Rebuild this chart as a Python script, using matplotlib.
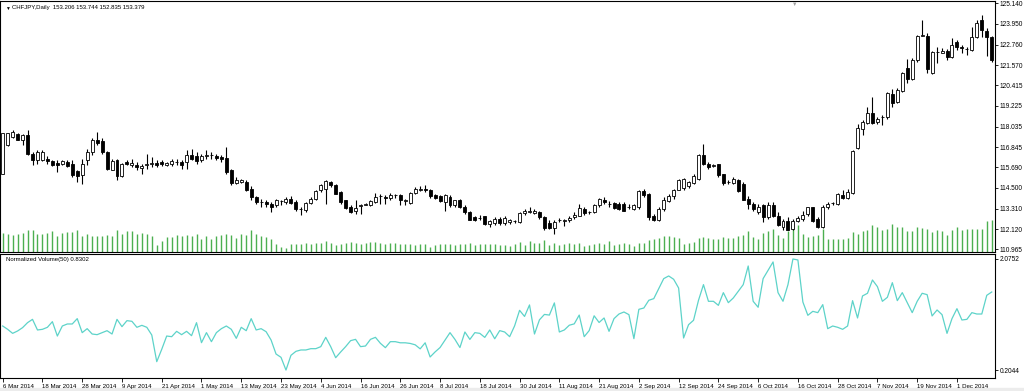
import matplotlib
matplotlib.use('Agg')
import matplotlib.pyplot as plt
from matplotlib.patches import Rectangle

plt.rcParams['font.family'] = ['Liberation Sans', 'DejaVu Sans']

# daily CHFJPY bars, 6 Mar 2014 .. 9 Dec 2014
opens = [
    115.32, 116.96, 117.44, 117.60, 117.25, 117.54, 116.48, 116.09, 116.13, 116.19,
    116.06, 115.94, 115.86, 116.00, 115.86, 115.45, 115.23, 116.09, 116.58, 117.29,
    117.21, 116.58, 115.55, 116.09, 115.17, 116.00, 115.80, 115.80, 115.67, 115.80,
    115.90, 115.94, 116.00, 115.84, 115.90, 116.02, 116.00, 116.00, 116.38, 116.32,
    116.09, 116.32, 116.40, 116.32, 116.29, 116.25, 115.52, 114.78, 114.84, 114.84,
    114.46, 113.97, 113.70, 113.69, 113.59, 113.49, 113.76, 113.69, 113.88, 113.69,
    113.30, 113.24, 113.63, 113.88, 114.36, 114.46, 114.84, 114.65, 114.26, 113.78,
    113.40, 113.17, 113.47, 113.53, 113.53, 113.69, 114.03, 113.96, 113.94, 114.09,
    114.07, 113.74, 113.63, 114.21, 114.36, 114.46, 114.36, 114.07, 114.01, 113.69,
    113.97, 113.49, 113.82, 113.40, 113.11, 112.82, 112.76, 112.86, 112.43, 112.47,
    112.72, 112.47, 112.51, 112.61, 112.53, 113.05, 113.14, 113.07, 113.11, 112.82,
    112.47, 112.20, 112.64, 112.62, 112.63, 112.82, 112.91, 113.30, 113.10, 113.11,
    113.49, 113.82, 113.60, 113.63, 113.59, 113.55, 113.41, 113.30, 113.40, 114.32,
    114.13, 112.91, 112.63, 113.30, 113.74, 114.01, 114.40, 114.51, 114.59, 114.78,
    115.03, 116.38, 115.86, 115.79, 115.86, 115.28, 114.85, 114.78, 114.98, 114.74,
    113.88, 113.59, 113.11, 113.49, 112.82, 113.49, 112.91, 112.24, 112.62, 112.14,
    112.59, 112.72, 113.01, 113.39, 112.72, 112.24, 113.39, 113.62, 113.55, 114.09,
    113.93, 114.20, 116.83, 117.92, 118.25, 118.79, 118.31, 118.58, 118.56, 119.91,
    119.47, 120.10, 121.39, 120.76, 121.85, 123.28, 123.26, 121.14, 122.36, 122.30,
    122.41, 122.03, 122.88, 122.64, 122.50, 122.45, 123.18, 124.19, 123.57, 123.18,
]
highs = [
    117.68, 117.68, 117.83, 117.64, 117.60, 117.83, 116.58, 116.67, 116.67, 116.32,
    116.13, 116.09, 116.13, 116.09, 116.13, 115.52, 116.19, 116.77, 117.35, 117.73,
    117.35, 116.63, 116.19, 116.19, 115.94, 116.09, 116.19, 116.00, 115.90, 116.48,
    116.29, 116.09, 116.13, 116.00, 116.19, 116.19, 116.13, 116.67, 116.77, 116.58,
    116.48, 116.67, 116.58, 116.48, 116.42, 116.86, 115.61, 115.13, 115.03, 114.98,
    114.59, 114.05, 113.88, 113.78, 113.69, 113.88, 113.82, 113.97, 114.01, 113.78,
    113.40, 113.69, 113.97, 114.40, 114.74, 114.94, 114.90, 114.74, 114.30, 113.82,
    113.49, 113.78, 113.59, 113.63, 113.78, 114.21, 114.17, 114.07, 114.21, 114.17,
    114.17, 113.88, 114.26, 114.55, 114.59, 114.65, 114.46, 114.17, 114.07, 114.13,
    114.07, 113.82, 113.88, 113.49, 113.20, 112.91, 112.95, 112.91, 112.63, 112.82,
    112.80, 112.86, 112.70, 112.66, 113.11, 113.30, 113.40, 113.30, 113.20, 112.86,
    112.63, 112.63, 112.78, 112.72, 112.91, 113.11, 113.59, 113.40, 113.20, 113.55,
    113.94, 113.97, 113.74, 113.68, 113.68, 113.68, 113.59, 113.59, 114.36, 114.46,
    114.21, 113.01, 113.40, 113.97, 114.17, 114.46, 115.03, 115.09, 114.90, 115.32,
    116.48, 117.02, 116.00, 115.90, 115.90, 115.32, 114.98, 115.13, 115.03, 114.84,
    114.01, 113.68, 113.55, 113.59, 113.68, 113.68, 113.11, 112.72, 112.82, 112.72,
    112.91, 113.16, 113.43, 113.43, 112.82, 113.49, 113.68, 113.68, 114.20, 114.36,
    114.45, 116.67, 118.21, 118.41, 119.17, 119.75, 118.60, 118.69, 120.04, 120.18,
    120.24, 121.20, 121.91, 121.97, 123.32, 124.15, 123.41, 122.41, 122.64, 122.55,
    122.49, 123.13, 123.03, 122.74, 122.64, 123.80, 124.19, 124.47, 123.70, 123.26,
]
lows = [
    115.28, 116.90, 117.40, 117.25, 116.96, 116.38, 115.80, 115.90, 116.06, 115.90,
    115.75, 115.42, 115.80, 115.71, 115.13, 114.84, 114.74, 115.80, 116.38, 116.96,
    116.48, 115.55, 115.52, 114.94, 115.13, 115.80, 115.71, 115.52, 115.32, 115.61,
    115.71, 115.71, 115.75, 115.77, 115.75, 115.80, 115.61, 115.61, 116.09, 115.90,
    116.00, 116.19, 116.19, 116.09, 116.00, 115.32, 114.65, 114.74, 114.78, 114.32,
    113.78, 113.60, 113.40, 113.40, 113.11, 113.40, 113.49, 113.59, 113.59, 113.20,
    112.97, 113.11, 113.59, 113.78, 114.26, 113.59, 114.55, 114.13, 113.59, 113.30,
    113.05, 113.01, 113.01, 113.49, 113.47, 113.63, 113.59, 113.55, 113.82, 113.94,
    113.49, 113.49, 113.55, 114.13, 114.30, 114.26, 113.94, 113.88, 113.69, 113.20,
    113.43, 113.40, 113.36, 113.01, 112.63, 112.59, 112.63, 112.34, 112.24, 112.39,
    112.39, 112.39, 112.43, 112.47, 112.47, 112.97, 113.05, 113.01, 112.72, 112.09,
    112.14, 111.82, 112.53, 112.28, 112.53, 112.72, 112.86, 112.97, 113.01, 113.05,
    113.43, 113.59, 113.43, 113.28, 113.24, 113.16, 113.30, 113.24, 113.30, 113.97,
    112.66, 112.59, 112.59, 113.20, 113.68, 113.88, 114.36, 114.40, 114.51, 114.74,
    114.98, 115.80, 115.61, 115.71, 115.13, 114.65, 114.74, 114.71, 114.26, 113.78,
    113.30, 113.20, 113.01, 112.53, 112.72, 112.82, 112.33, 112.08, 112.05, 112.05,
    112.53, 112.62, 112.91, 112.53, 112.18, 112.18, 113.30, 113.49, 113.49, 113.88,
    113.88, 114.17, 116.77, 117.54, 118.17, 118.17, 118.21, 118.12, 118.50, 119.17,
    119.41, 120.04, 120.52, 120.72, 121.78, 123.26, 121.10, 121.06, 121.68, 122.26,
    121.87, 121.97, 122.45, 122.26, 122.16, 122.41, 123.13, 123.22, 122.10, 121.78,
]
closes = [
    117.64, 117.64, 117.73, 117.29, 117.54, 116.48, 116.09, 116.58, 116.58, 116.06,
    115.80, 115.80, 116.06, 115.77, 115.23, 115.20, 115.90, 116.58, 117.25, 117.10,
    116.58, 115.61, 116.06, 115.17, 115.90, 115.86, 115.94, 115.71, 115.75, 115.90,
    115.92, 115.84, 115.86, 115.94, 116.06, 116.00, 115.80, 116.38, 116.19, 116.06,
    116.32, 116.42, 116.41, 116.23, 116.19, 115.42, 114.80, 114.98, 114.94, 114.40,
    113.97, 113.68, 113.68, 113.55, 113.40, 113.78, 113.74, 113.88, 113.63, 113.30,
    113.28, 113.63, 113.88, 114.32, 114.65, 114.90, 114.65, 114.17, 113.69, 113.36,
    113.11, 113.34, 113.49, 113.55, 113.74, 113.97, 114.01, 113.94, 114.11, 114.07,
    113.82, 113.82, 114.21, 114.46, 114.46, 114.36, 114.01, 113.94, 113.74, 114.07,
    113.49, 113.78, 113.40, 113.11, 112.66, 112.66, 112.78, 112.43, 112.57, 112.72,
    112.47, 112.78, 112.63, 112.59, 113.05, 113.16, 113.17, 113.20, 112.82, 112.20,
    112.20, 112.53, 112.66, 112.63, 112.78, 112.97, 113.36, 113.05, 113.12, 113.49,
    113.88, 113.68, 113.58, 113.34, 113.30, 113.20, 113.39, 113.49, 114.32, 114.07,
    112.82, 112.63, 113.30, 113.82, 114.01, 114.40, 114.98, 115.03, 114.84, 115.17,
    116.38, 115.86, 115.71, 115.81, 115.23, 114.78, 114.83, 115.03, 114.32, 113.82,
    113.55, 113.28, 113.43, 112.82, 113.49, 112.91, 112.39, 112.62, 112.08, 112.62,
    112.78, 112.95, 113.39, 112.62, 112.24, 113.43, 113.59, 113.64, 114.13, 113.93,
    114.26, 116.63, 117.98, 118.31, 118.79, 118.25, 118.50, 118.60, 119.95, 119.41,
    120.14, 121.14, 120.76, 121.87, 123.26, 123.30, 121.33, 122.36, 122.33, 122.41,
    122.03, 122.74, 122.64, 122.55, 122.48, 123.18, 124.00, 123.61, 123.18, 121.85,
]
# tick volume, relative units
volumes = [
    19, 18, 17, 18, 19, 22, 22, 18, 18, 19, 21, 16, 19, 20, 20, 22, 16, 18, 16, 16,
    16, 17, 16, 22, 18, 21, 21, 18, 19, 18, 16, 7, 11, 15, 15, 17, 16, 17, 16, 18,
    13, 16, 13, 16, 17, 18, 17, 14, 18, 17, 22, 18,
    16, 15, 12.7, 8.3, 5, 3.7, 8.3, 8.3, 8.3, 9, 8.3, 9.3, 9, 11, 9.3, 7,
    8.3, 9.3, 10.3, 9.3, 8.3, 9, 9.7, 10.3, 9.3, 8.3, 9, 9, 7.7, 8.3, 7.7, 7,
    7.7, 8.3, 5, 7, 7.7, 8.3, 8.3, 7, 8.3, 8.3, 9, 7, 8.3, 7.7, 8.3, 7.7,
    7, 7, 5.7, 8.3, 10.3, 7, 11, 9.3, 9, 11.7, 7, 9.3, 7, 8.3, 9.3, 7.7, 9.3, 6, 7, 8.3,
    9.3, 7.7, 11, 7, 7.7, 9.3, 7.7, 6, 9.3, 9.3, 11.7, 12.7, 14.3, 16, 16, 15, 13.7, 7.7, 9.3, 10,
    13.7, 15, 13.7, 13.3, 13.3, 15, 13.7, 14.3, 16,
    17.3, 20.7, 14.7, 13.3, 19, 21.3, 23.3, 17.3, 14, 20.7, 25.7, 26.7, 18, 14.7, 15.7, 16.7,
    23.3, 12.7, 13.3, 13.3, 13.3, 14, 20, 18, 21.3, 22.3, 26.7, 25.3, 22.3, 23.3, 28, 24.7,
    24.7, 21.3, 20.7, 24.7, 24, 22.7, 20, 22, 20.7, 17.3, 22, 24.7, 22, 23.3, 23.3, 23.3,
    23.3, 30.7, 31.7,
]
norm_volume = [
    0.946, 0.890, 0.822, 0.862, 0.918, 1.002, 1.058, 0.879, 0.890, 0.924,
    1.019, 0.777, 0.946, 0.980, 0.980, 1.070, 0.834, 0.901, 0.811, 0.800,
    0.834, 0.867, 0.811, 1.058, 0.935, 1.036, 1.025, 0.924, 0.957, 0.924,
    0.794, 0.345, 0.553, 0.777, 0.766, 0.856, 0.800, 0.856, 0.783, 1.002,
    0.665, 0.834, 0.682, 0.834, 0.901, 0.946, 0.890, 0.738, 0.924, 0.867,
    1.070, 0.879, 0.901, 0.850, 0.710, 0.474, 0.418, 0.204, 0.452, 0.519,
    0.542, 0.542, 0.564, 0.564, 0.598, 0.755, 0.598, 0.412, 0.508, 0.598,
    0.699, 0.721, 0.598, 0.609, 0.721, 0.755, 0.654, 0.581, 0.682, 0.682,
    0.663, 0.663, 0.652, 0.629, 0.561, 0.663, 0.424, 0.509, 0.583, 0.709,
    0.834, 0.720, 0.583, 0.845, 0.720, 0.834, 0.822, 0.754, 0.879, 0.731,
    0.868, 0.845, 0.766, 0.948, 1.210, 1.107, 1.301, 0.811, 1.050, 1.141,
    1.130, 1.335, 0.845, 0.879, 0.959, 0.982, 1.130, 0.766, 0.868, 1.118,
    1.005, 1.081, 0.856, 1.070, 1.148, 1.182, 1.137, 0.733, 1.227, 1.249,
    1.379, 1.407, 1.575, 1.744, 1.789, 1.733, 1.586, 0.744, 0.968, 1.042,
    1.379, 1.643, 1.362, 1.362, 1.294, 1.508, 1.339, 1.418, 1.530, 1.643,
    1.957, 1.362, 1.261, 1.744, 1.884, 2.025, 1.508, 1.362, 1.643, 2.0752,
    2.058, 1.350, 1.126, 1.193, 1.171, 1.306, 0.901, 0.946, 0.924, 0.890,
    0.946, 1.373, 1.081, 1.452, 1.497, 1.721, 1.609, 1.362, 1.429, 1.676,
    1.373, 1.508, 1.339, 1.171, 1.362, 1.497, 1.474, 1.115, 1.216, 1.137,
    0.822, 1.070, 1.238, 1.047, 1.058, 1.171, 1.148, 1.148, 1.463, 1.519,
]
date_labels = ['6 Mar 2014', '18 Mar 2014', '28 Mar 2014', '9 Apr 2014', '21 Apr 2014',
               '1 May 2014', '13 May 2014', '23 May 2014', '4 Jun 2014', '16 Jun 2014',
               '26 Jun 2014', '8 Jul 2014', '18 Jul 2014', '30 Jul 2014', '11 Aug 2014',
               '21 Aug 2014', '2 Sep 2014', '12 Sep 2014', '24 Sep 2014', '6 Oct 2014',
               '16 Oct 2014', '28 Oct 2014', '7 Nov 2014', '19 Nov 2014', '1 Dec 2014']
price_ticks = [125.140, 123.950, 122.760, 121.570, 120.415, 119.225, 118.035,
               116.845, 115.690, 114.500, 113.310, 112.120, 110.965]
ind_ticks = [2.0752, 0.2044]

n = len(closes)
xs = list(range(n))

fig = plt.figure(figsize=(10.24, 3.91), dpi=100)
fig.add_artist(Rectangle((0, 0), 1, 3 / 391, transform=fig.transFigure,
                         color='#ececec', zorder=0))

# price window
ax = fig.add_axes([0.0, 0.3555, 0.9717, 0.6419])
axv = ax.twinx()
ax.set_zorder(2)
axv.set_zorder(1)
ax.patch.set_visible(False)

axv.vlines(xs, 0, volumes, color='#4CAF50', linewidth=1.0)
axv.set_ylim(0, 251)
axv.set_axis_off()

face = ['white' if c >= o else 'black' for o, c in zip(opens, closes)]
ax.vlines(xs, lows, highs, color='black', linewidth=0.8, zorder=2)
ax.bar(xs, [c - o for o, c in zip(opens, closes)], bottom=opens, width=0.6,
       color=face, edgecolor='black', linewidth=0.6, zorder=3)

ax.set_xlim(-0.54, 199.66)
ax.set_ylim(110.81, 125.27)
ax.set_xticks([])
ax.yaxis.tick_right()
ax.set_yticks(price_ticks)
ax.set_yticklabels(['%.3f' % t for t in price_ticks])
ax.tick_params(axis='y', direction='out', length=2.5, width=0.6, labelsize=4.7, pad=1)
for s in ax.spines.values():
    s.set_linewidth(0.8)

# indicator window
axi = fig.add_axes([0.0, 0.0332, 0.9717, 0.3172])
axi.plot(xs, norm_volume, color='#5DD3C9', linewidth=0.9)
axi.set_xlim(-0.54, 199.66)
axi.set_ylim(0.0696, 2.159)
axi.yaxis.tick_right()
axi.set_yticks(ind_ticks)
axi.set_yticklabels(['%.4f' % t for t in ind_ticks])
axi.tick_params(axis='y', direction='out', length=2.5, width=0.6, labelsize=4.7, pad=1)
axi.set_xticks(range(0, n, 8))
axi.set_xticklabels(date_labels, ha='left')
axi.tick_params(axis='x', direction='out', length=3, width=0.6, labelsize=4.4, pad=1)
for s in axi.spines.values():
    s.set_linewidth(0.8)

fig.text(5 / 1024, 1 - 8 / 391, '\u25bc', fontsize=3.5, va='center')
fig.text(12 / 1024, 1 - 8 / 391, 'CHFJPY,Daily  153.206 153.744 152.835 153.379',
         fontsize=4.3, va='center')
fig.text(795 / 1024, 1 - 4 / 391, '\u25bc', fontsize=4, color='#a0a0a0',
         ha='center', va='center')
fig.text(6 / 1024, 1 - 259 / 391, 'Normalized Volume(50) 0.8302', fontsize=4.3,
         va='center')

fig.savefig('out.png', dpi=100)
